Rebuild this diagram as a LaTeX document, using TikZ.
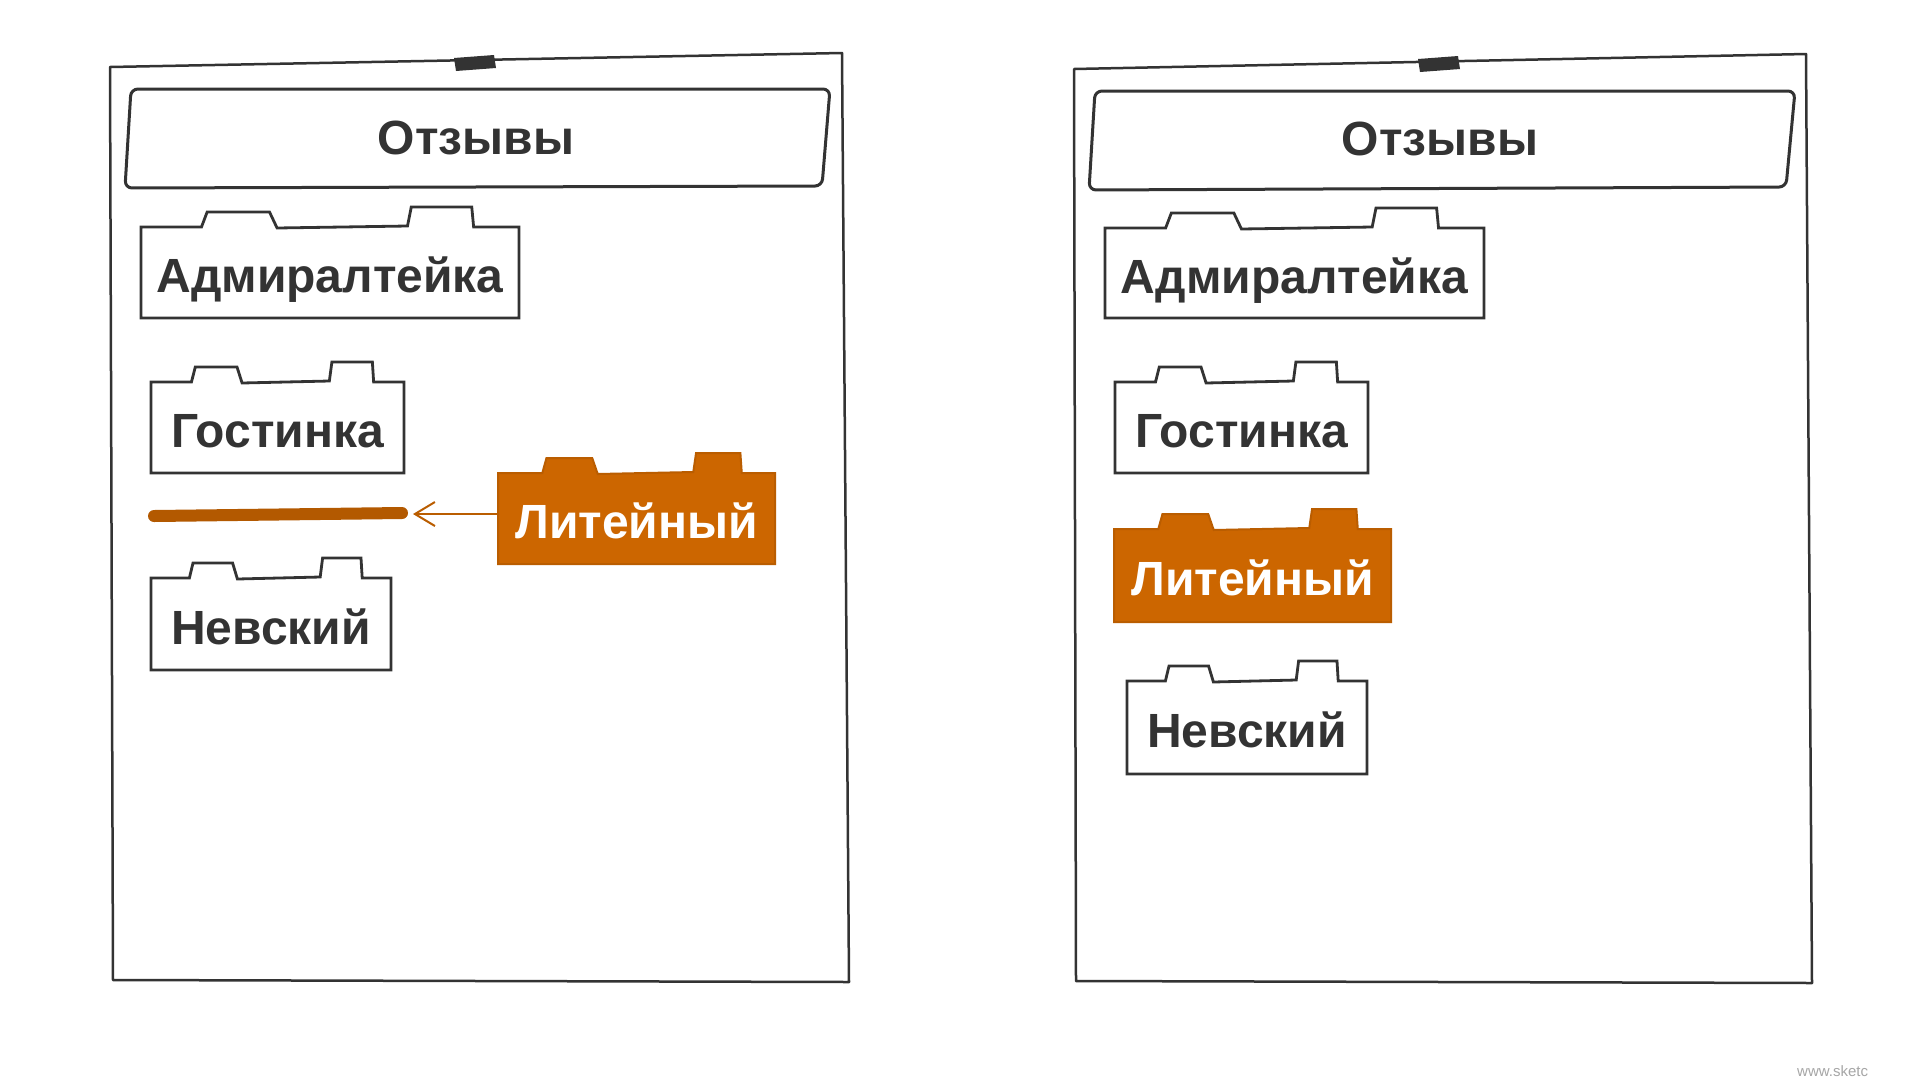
\documentclass[tikz,border=0pt]{standalone}
\usepackage{fontspec}
\setmainfont{Liberation Sans}
\usetikzlibrary{arrows.meta}
\definecolor{ink}{HTML}{333333}
\definecolor{orng}{HTML}{CC6600}
\definecolor{orngdark}{HTML}{BA5D00}
\definecolor{slotc}{HTML}{B35900}
\tikzset{
  frame/.style={draw=ink, line width=2.5pt, line join=round},
  tape/.style={fill=ink},
  titlebox/.style={draw=ink, line width=3pt, rounded corners=7pt},
  titletext/.style={text=ink, font=\fontsize{48}{56}\selectfont\bfseries, inner sep=0pt, text height=34.4pt, text depth=0pt},
  plainfolder/.style={draw=ink, line width=2.8pt, fill=white, line join=miter},
  plaintext/.style={text=ink},
  hotfolder/.style={draw=orngdark, line width=2pt, fill=orng},
  hottext/.style={text=white},
  foldertext/.style={font=\fontsize{48}{56}\selectfont\bfseries, inner sep=0pt, text height=40.4pt, text depth=0pt},
  slot/.style={draw=slotc, line width=12pt, line cap=round},
  hint/.style={draw=orngdark, line width=2pt, -{Straight Barb[length=20pt,width=24pt,line width=2pt]}},
  watermark/.style={text=black!35, font=\fontsize{15}{18}\selectfont, inner sep=0pt, anchor=west},
}
\newcommand\folder[7]{% name, x, y, w, h, kind, text
  \begin{scope}[shift={(#2,#3)}]
    \draw[#6folder] (0,#5) -- (0,0) -- ({0.16*#4},0) -- ({0.175*#4},-15) -- ({0.34*#4},-15)
      -- ({0.36*#4},1) -- ({0.705*#4},-1) -- ({0.715*#4},-20) -- ({0.875*#4},-20)
      -- ({0.88*#4},0) -- (#4,0) -- (#4,#5) -- cycle;
  \end{scope}
  \node[foldertext,#6text, minimum width=#4, minimum height=#5] (#1) at ({#2+#4/2},{#3+#5/2}) {#7};
}
\begin{document}
\begin{tikzpicture}[x=1pt,y=-1pt]
  \fill[white] (0,0) rectangle (1920,1080);
  \useasboundingbox (0,0) rectangle (1920,1080);

  % ---------- left panel ----------
  \draw[frame] (110,67) -- (842,53) -- (849,982) -- (113,980) -- cycle;
  \fill[tape] (454,58) -- (494,55) -- (496,68) -- (456,71) -- cycle;
  \draw[titlebox] (131,89) -- (830,89) -- (822,186) -- (125,188) -- cycle;
  \node[titletext] (title1) at (476,137) {Отзывы};

  \folder{adm1}{141}{227}{378}{91}{plain}{Адмиралтейка}
  \folder{gos1}{151}{382}{253}{91}{plain}{Гостинка}
  \folder{nev1}{151}{578}{240}{92}{plain}{Невский}
  \folder{lit1}{498}{473}{277}{91}{hot}{Литейный}

  \coordinate (slotA) at (154,516);
  \coordinate (slotB) at (402,513);
  \coordinate (hintEnd) at (413,514);
  \draw[slot] (slotA) -- (slotB);
  \draw[hint] (lit1.west |- hintEnd) -- (hintEnd);

  % ---------- right panel ----------
  \draw[frame] (1074,69) -- (1806,54) -- (1812,983) -- (1076,981) -- cycle;
  \fill[tape] (1418,59) -- (1458,56) -- (1460,69) -- (1420,72) -- cycle;
  \draw[titlebox] (1095,91) -- (1795,91) -- (1786,187) -- (1089,190) -- cycle;
  \node[titletext] (title2) at (1440,138) {Отзывы};

  \folder{adm2}{1105}{228}{379}{90}{plain}{Адмиралтейка}
  \folder{gos2}{1115}{382}{253}{91}{plain}{Гостинка}
  \folder{lit2}{1114}{529}{277}{93}{hot}{Литейный}
  \folder{nev2}{1127}{681}{240}{93}{plain}{Невский}

  \node[watermark] (wm) at (1797,1071) {www.sketc};
\end{tikzpicture}
\end{document}
